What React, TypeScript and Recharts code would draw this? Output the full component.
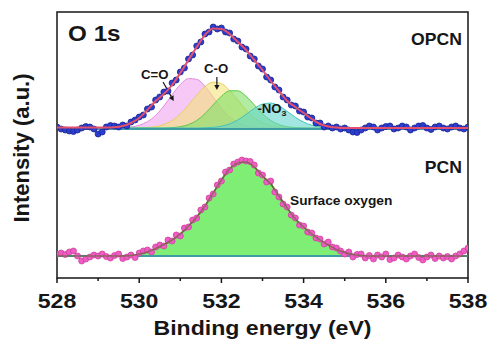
import { ComposedChart, Area, Line, XAxis, YAxis, ReferenceArea, ReferenceLine, ReferenceDot } from 'recharts';

// binding energy grids (eV)
const RAW_START = 528;
const RAW_STEP = 0.1;
const FIT_START = 528;
const FIT_STEP = 0.2;
const PEAK_START = 529.6;
const PEAK_STEP = 0.2;

// intensity offsets of the two stacked spectra (a.u.)
const OPCN_BASE = 150;
const PCN_BASE = 22;

// measured points, 528.0 -> 538.0 every 0.1 eV
const opcnRaw = [
  151, 149, 148, 147, 146.5, 148, 150, 151.5, 151, 149,
  144, 146, 151, 152.5, 152, 151, 153, 152, 156, 158,
  161, 163, 169, 171, 178, 181, 186, 187, 195, 198,
  206, 210, 219, 223, 232, 236, 244, 246, 251, 249,
  250, 246, 245, 239, 237, 231, 229, 222, 219, 212,
  209, 201, 198, 191, 188, 181, 178, 173, 172, 167,
  166, 161, 160, 155, 155, 151, 152, 150, 151, 149,
  150, 148, 146, 145.5, 148, 150, 152, 151, 148, 150,
  151.5, 152, 149, 150, 152, 151, 148, 150, 152, 152.5,
  150, 148.5, 151, 152, 150, 149, 151, 152, 150, 149,
  151,
];
const pcnRaw = [
  24, 25, 23.5, 26, 27, 22, 17, 19, 21, 23,
  22, 24, 21.5, 20, 22.5, 24, 19.5, 21, 23, 20.5,
  25, 27, 28, 26, 31, 33, 32, 38, 37, 43,
  42, 50, 51, 58, 60, 68, 71, 80, 84, 93,
  97, 106, 108, 114, 116, 118, 117, 116.5, 113, 105,
  103, 96, 97, 86, 81, 74, 71, 63, 60, 53,
  52, 46, 45, 40, 39, 34, 36, 31, 30, 27,
  24, 26, 21, 23.5, 24, 20, 22.5, 19, 23, 21,
  24, 18.5, 20, 23, 21, 19, 22, 24, 20.5, 18,
  21, 23, 19.5, 22, 20, 21.5, 19, 22, 24, 27,
  30,
];

// fitted envelopes, 528.0 -> 538.0 every 0.2 eV
const opcnEnvelope = [
  150.5, 150.5, 150.5, 150.5, 150.5, 150.5, 150.5, 150.8, 152, 155,
  160, 168, 177, 184, 193, 205, 218, 231, 243, 249.5,
  249, 244, 236, 228, 218, 208, 197, 187, 177, 171,
  165, 159, 154, 151.5, 150.5, 150, 150, 150, 150, 150,
  150, 150, 150, 150, 150, 150, 150, 150, 150, 150,
  150,
];
const pcnFit = [
  22, 22, 22, 22, 22, 22, 22, 22, 22, 22.5,
  24, 26, 29.5, 33.5, 38, 44, 52, 61, 72, 85,
  98, 109, 115, 116, 111, 102, 94, 82, 70, 59,
  51, 44, 38, 33, 28.5, 25.5, 23.5, 22.5, 22, 22,
  22, 22, 22, 22, 22, 22, 22, 22, 22, 22,
  22,
];

// OPCN components (height above baseline), 529.6 -> 534.6 every 0.2 eV
const peakCdO = [0.3, 1.0, 2.7, 6.3, 12.6, 22.0, 33.2, 43.5, 49.4, 48.7, 41.7, 30.9, 19.9, 11.1, 5.4, 2.3, 0.8, 0.2, 0, 0, 0, 0, 0, 0, 0, 0];
const peakCO = [0, 0.1, 0.2, 0.5, 1.4, 3.5, 7.4, 13.9, 22.9, 32.9, 41.5, 45.8, 44.3, 37.6, 27.9, 18.2, 10.4, 5.2, 2.3, 0.9, 0.3, 0.1, 0, 0, 0, 0];
const peakMid = [0, 0, 0, 0, 0, 0, 0.4, 1.3, 3.4, 7.5, 14.3, 23.1, 31.7, 37.2, 37.2, 31.7, 23.1, 14.3, 7.5, 3.4, 1.3, 0.4, 0.1, 0, 0, 0];
const peakNO3 = [0, 0, 0, 0, 0, 0, 0, 0, 0, 0, 0.2, 0.7, 1.8, 4.1, 8.1, 13.6, 19.6, 23.9, 24.9, 22.1, 16.7, 10.7, 5.9, 2.8, 1.1, 0.4];

const energyTicks = [528, 529, 530, 531, 532, 533, 534, 535, 536, 537, 538];

const toPoints = (vals: number[], start: number, step: number, offset = 0) =>
  vals.map((v, i) => ({ e: +(start + i * step).toFixed(2), v: v + offset }));

const opcnPoints = toPoints(opcnRaw, RAW_START, RAW_STEP);
const pcnPoints = toPoints(pcnRaw, RAW_START, RAW_STEP);
const opcnFitPoints = toPoints(opcnEnvelope, FIT_START, FIT_STEP);
const pcnFitPoints = toPoints(pcnFit, FIT_START, FIT_STEP);
const cdoPoints = toPoints(peakCdO, PEAK_START, PEAK_STEP, OPCN_BASE);
const coPoints = toPoints(peakCO, PEAK_START, PEAK_STEP, OPCN_BASE);
const midPoints = toPoints(peakMid, PEAK_START, PEAK_STEP, OPCN_BASE);
const no3Points = toPoints(peakNO3, PEAK_START, PEAK_STEP, OPCN_BASE);

const FONT = '"Liberation Sans", Arial, sans-serif';
const INK = '#161616';

const EnergyTick = (props: any) => {
  const { x, y, payload } = props;
  const major = payload.value % 2 === 0;
  return (
    <g>
      <line x1={x} x2={x} y1={y} y2={y + (major ? 5 : 3)} stroke={INK} strokeWidth={1.5} />
      {major && (
        <text transform={`translate(${x},${y + 30}) scale(1.1,1)`} textAnchor="middle"
          fontFamily={FONT} fontWeight="bold" fontSize={21} fill={INK}>
          {payload.value}
        </text>
      )}
    </g>
  );
};

const label = (content: any, size: number, anchor: 'start' | 'middle' | 'end' = 'middle') => (p: any) => (
  <text transform={`translate(${p.cx},${p.cy}) scale(1.1,1)`} textAnchor={anchor}
    fontFamily={FONT} fontWeight="bold" fontSize={size} fill={INK}>
    {content}
  </text>
);

const Arrow = (p: any) => {
  const { x1, y1, x2, y2 } = p;
  const a = Math.atan2(y2 - y1, x2 - x1);
  const s = 5;
  const w = 2.6;
  const bx = x2 - s * Math.cos(a);
  const by = y2 - s * Math.sin(a);
  const pts = `${x2},${y2} ${bx + w * Math.sin(a)},${by - w * Math.cos(a)} ${bx - w * Math.sin(a)},${by + w * Math.cos(a)}`;
  return (
    <g>
      <line x1={x1} y1={y1} x2={bx} y2={by} stroke={INK} strokeWidth={1.2} />
      <polygon points={pts} fill={INK} />
    </g>
  );
};

const dot = (fill: string, stroke: string) => (p: any) => (
  <circle key={p.index} cx={p.cx} cy={p.cy} r={3} fill={fill} stroke={stroke} strokeWidth={0.8} />
);

export default function App() {
  return (
    <div style={{ position: 'absolute', left: 0, top: 0, width: 491, height: 340, background: '#fff' }}>
      <ComposedChart width={491} height={340} margin={{ top: 12, right: 23, bottom: 0, left: 0 }}>
        <XAxis dataKey="e" type="number" domain={[528, 538]} ticks={energyTicks} allowDataOverflow
          axisLine={false} tickLine={false} tickSize={0} tickMargin={0} height={62} interval={0}
          tick={<EnergyTick />}
          label={({ viewBox }: any) => (
            <text transform={`translate(${viewBox.x + viewBox.width / 2},${viewBox.y + 57}) scale(1.1,1)`}
              textAnchor="middle" fontFamily={FONT} fontWeight="bold" fontSize={21} fill={INK}>
              Binding energy (eV)
            </text>
          )}
        />
        <YAxis type="number" domain={[0, 266]} allowDataOverflow width={57} tick={false} axisLine={false} tickLine={false}
          label={({ viewBox }: any) => (
            <text transform={`translate(${viewBox.x + 29},${viewBox.y + viewBox.height / 2 + 3}) rotate(-90)`}
              textAnchor="middle" fontFamily={FONT} fontWeight="bold" fontSize={22} fill={INK}>
              Intensity (a.u.)
            </text>
          )}
        />

        <Area data={cdoPoints} dataKey="v" type="monotone" baseValue={OPCN_BASE} fill="#f0a4ee" fillOpacity={0.6}
          stroke="#e58ae0" strokeWidth={1} isAnimationActive={false} />
        <Area data={coPoints} dataKey="v" type="monotone" baseValue={OPCN_BASE} fill="#f4e27a" fillOpacity={0.6}
          stroke="#e8d060" strokeWidth={1} isAnimationActive={false} />
        <Area data={midPoints} dataKey="v" type="monotone" baseValue={OPCN_BASE} fill="#7ee064" fillOpacity={0.6}
          stroke="#5cc84a" strokeWidth={1} isAnimationActive={false} />
        <Area data={no3Points} dataKey="v" type="monotone" baseValue={OPCN_BASE} fill="#62d6cc" fillOpacity={0.6}
          stroke="#46c2bc" strokeWidth={1} isAnimationActive={false} />
        <Area data={pcnFitPoints} dataKey="v" type="monotone" baseValue={PCN_BASE} fill="#7eee74" fillOpacity={1}
          stroke="#6a6a3c" strokeWidth={1.5} isAnimationActive={false} />

        <ReferenceLine y={OPCN_BASE - 1} stroke="#3c9ea2" strokeWidth={2} />
        <ReferenceLine y={PCN_BASE} stroke="#3c9ea2" strokeWidth={2} />

        <Line data={opcnPoints} dataKey="v" type="linear" stroke="none" dot={dot('#2a3ed0', '#1a2490')}
          activeDot={false} isAnimationActive={false} />
        <Line data={pcnPoints} dataKey="v" type="linear" stroke="#4f7a36" strokeWidth={1} dot={dot('#ee5cc4', '#d0409e')}
          activeDot={false} isAnimationActive={false} />

        <Line data={opcnFitPoints} dataKey="v" type="monotone" stroke="#e2506e" strokeWidth={2} dot={false}
          activeDot={false} isAnimationActive={false} zIndex={1100} />
        <Line data={pcnFitPoints} dataKey="v" type="monotone" stroke="#6a6a3c" strokeWidth={1.5} strokeOpacity={0.7} dot={false}
          activeDot={false} isAnimationActive={false} zIndex={1100} />

        <ReferenceDot x={528.27} y={237} r={0} shape={label('O 1s', 22, 'start')} />
        <ReferenceDot x={537.85} y={233} r={0} shape={label('OPCN', 16, 'end')} />
        <ReferenceDot x={537.85} y={105} r={0} shape={label('PCN', 16, 'end')} />
        <ReferenceDot x={533.67} y={73} r={0} shape={label('Surface oxygen', 12.5, 'start')} />
        <ReferenceDot x={530.38} y={199} r={0} shape={label('C=O', 12)} />
        <ReferenceDot x={531.87} y={205} r={0} shape={label('C-O', 12)} />
        <ReferenceDot x={533.23} y={165} r={0}
          shape={label(<>-NO<tspan dy={3} fontSize={8}>3</tspan></>, 12)} />
        <ReferenceLine segment={[{ x: 530.58, y: 196 }, { x: 530.84, y: 177 }]} shape={Arrow} />
        <ReferenceLine segment={[{ x: 531.89, y: 201 }, { x: 531.89, y: 188 }]} shape={Arrow} />

        <ReferenceArea x1={528} x2={538} y1={0} y2={266} fill="none" fillOpacity={0} stroke={INK} strokeWidth={1.5}
          ifOverflow="visible" />
      </ComposedChart>
    </div>
  );
}
